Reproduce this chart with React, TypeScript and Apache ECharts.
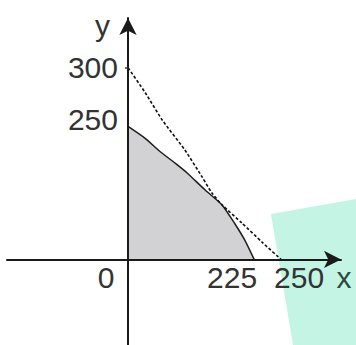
import React, { useEffect, useRef } from "react";
import * as echarts from "echarts";

// Frontier (solid curve, shaded region) in its own axis units
const frontierX = [0, 30, 57, 84, 105, 137, 168, 190, 209, 225];
const frontierY = [250, 228, 203, 181, 163, 131, 102, 68, 35, 0];

// Dashed line from (0,300) to (250,0)
const dashedX = [0, 28, 56, 93, 121, 137, 154, 186, 219, 250];
const dashedY = [300, 261, 218, 171, 129, 104, 85, 57, 27, 0];

// Tick labels
const xLabelsFrontier = [0, 225];
const xLabelsDashed = [250];
const yLabelsFrontier = [250];
const yLabelsDashed = [300];

const FONT = "'Liberation Sans', Arial, sans-serif";
const TXT = "#333";
const X_OFFSET = -85.6; // x axes sit on y = 0
const Y_OFFSET = -121; // y axes sit on x = 0

export default function App() {
  const ref = useRef<HTMLDivElement>(null);
  useEffect(() => {
    if (!ref.current) return;
    const chart = echarts.init(ref.current, null, { renderer: "svg" });
    const labelBase = { fontSize: 30, fontFamily: FONT, color: TXT };
    chart.setOption({
      animation: false,
      backgroundColor: "#fff",
      grid: { left: 7, right: 15, top: 18, bottom: 0, containLabel: false, outerBoundsMode: "none" },
      xAxis: [
        {
          type: "value", position: "bottom", offset: X_OFFSET, min: -216, max: 380, z: 5,
          splitLine: { show: false },
          axisLine: { show: true, onZero: false, symbol: ["none", "arrow"], symbolSize: [13, 17], lineStyle: { color: "#1a1a1a", width: 2 } },
          axisTick: { show: false },
          axisLabel: { ...labelBase, customValues: xLabelsFrontier, margin: 3, padding: [0, 44, 0, 0], align: "center" },
          name: "x", nameLocation: "end", nameGap: 3,
          nameTextStyle: { ...labelBase, color: "#2c4a41", align: "center", verticalAlign: "top", padding: [3, 0, 0, 0] },
        },
        {
          type: "value", position: "bottom", offset: X_OFFSET, min: -198, max: 348, z: 5,
          splitLine: { show: false },
          axisLine: { show: false, onZero: false },
          axisTick: { show: false },
          axisLabel: { ...labelBase, customValues: xLabelsDashed, margin: 3, padding: [0, 0, 0, 36], align: "center" },
        },
      ],
      yAxis: [
        {
          type: "value", position: "left", offset: Y_OFFSET, min: -161, max: 454, z: 5,
          splitLine: { show: false },
          axisLine: { show: true, onZero: false, symbol: ["none", "arrow"], symbolSize: [13, 17], lineStyle: { color: "#1a1a1a", width: 2 } },
          axisTick: { show: false },
          axisLabel: { ...labelBase, customValues: yLabelsFrontier, margin: 10, align: "right", verticalAlign: "bottom", lineHeight: 14 },
          name: "y", nameLocation: "end", nameGap: -7,
          nameTextStyle: { ...labelBase, align: "right", verticalAlign: "middle", padding: [0, 18, 0, 0] },
        },
        {
          type: "value", position: "left", offset: Y_OFFSET, min: -134, max: 378, z: 5,
          splitLine: { show: false },
          axisLine: { show: false, onZero: false },
          axisTick: { show: true, customValues: yLabelsDashed, length: 3, lineStyle: { color: "#333", width: 1.5 } },
          axisLabel: { ...labelBase, customValues: yLabelsDashed, margin: 10, align: "right", verticalAlign: "middle" },
        },
      ],
      series: [
        {
          type: "line", xAxisIndex: 0, yAxisIndex: 0,
          data: frontierX.map((x, i) => [x, frontierY[i]]),
          showSymbol: false, smooth: 0.2,
          lineStyle: { color: "#1e1e1e", width: 1.5 },
          areaStyle: { color: "#d2d2d4", opacity: 1 },
          z: 2,
        },
        {
          type: "line", xAxisIndex: 1, yAxisIndex: 1,
          data: dashedX.map((x, i) => [x, dashedY[i]]),
          showSymbol: false, smooth: 0.2,
          lineStyle: { color: "#111", width: 1.6, type: [3, 2] },
          z: 3,
        },
      ],
      graphic: [
        {
          type: "polygon", z: 0, zlevel: 0, silent: true,
          shape: { points: [[271, 214], [356, 199], [356, 345], [293, 345]] },
          style: { fill: "#c4f5e4" },
        },
      ],
    });
    return () => chart.dispose();
  }, []);
  return (
    <div style={{ position: "absolute", left: 0, top: 0, width: 356, height: 345, background: "#fff" }}>
      <div ref={ref} style={{ position: "absolute", left: 0, top: 0, width: 356, height: 345 }} />
    </div>
  );
}
